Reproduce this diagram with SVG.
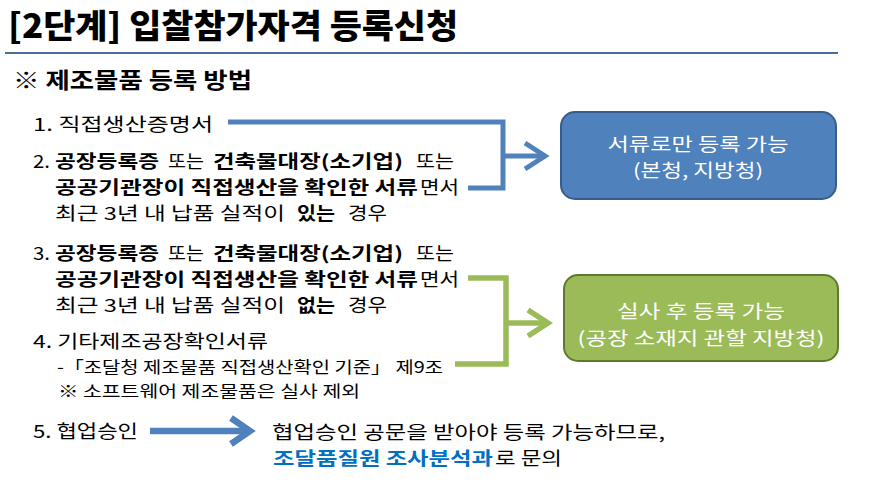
<svg xmlns="http://www.w3.org/2000/svg" width="874" height="491" viewBox="0 0 874 491">
<style>
  text { font-family: "Noto Sans CJK KR", "Noto Sans", sans-serif; fill: #000; }
  .title { font-size: 33px; font-weight: 900; }
  .sub { font-size: 22px; font-weight: 700; }
  .t { font-size: 17.8px; font-weight: 400; }
  .s { font-size: 16.4px; font-weight: 400; }
  .b { font-weight: 700; }
  .hl { font-weight: 700; fill: #0070c0; }
  .boxtxt { font-size: 18px; fill: #fff; text-anchor: middle; }
  .blue { fill: none; stroke: #4f81bd; stroke-width: 5; stroke-linejoin: miter; stroke-linecap: butt; }
  .green { fill: none; stroke: #9bbb59; stroke-width: 5.5; stroke-linejoin: miter; stroke-linecap: butt; }
  .big { stroke-width: 6.5; }
</style>

<g id="header">
  <text class="title" x="8" y="38" textLength="450" lengthAdjust="spacingAndGlyphs">[2단계] 입찰참가자격 등록신청</text>
  <line x1="5" y1="53" x2="838" y2="53" stroke="#4a6f96" stroke-width="2"/>
  <text class="sub" x="13" y="88" textLength="239" lengthAdjust="spacingAndGlyphs">※ 제조물품 등록 방법</text>
</g>

<g id="item1">
  <text class="t" x="33" y="131" textLength="180" lengthAdjust="spacingAndGlyphs">1. 직접생산증명서</text>
</g>

<g id="item2">
  <text class="t" x="33" y="168" textLength="17" lengthAdjust="spacingAndGlyphs">2.</text>
  <text class="t b" x="55" y="168" textLength="104" lengthAdjust="spacingAndGlyphs">공장등록증</text>
  <text class="t" x="168" y="168" textLength="36" lengthAdjust="spacingAndGlyphs">또는</text>
  <text class="t b" x="213" y="168" textLength="190" lengthAdjust="spacingAndGlyphs">건축물대장(소기업)</text>
  <text class="t" x="416" y="168" textLength="38" lengthAdjust="spacingAndGlyphs">또는</text>
  <text class="t b" x="55" y="194" textLength="363" lengthAdjust="spacingAndGlyphs">공공기관장이 직접생산을 확인한 서류</text>
  <text class="t" x="420" y="194" textLength="39" lengthAdjust="spacingAndGlyphs">면서</text>
  <text class="t" x="55" y="220" textLength="230" lengthAdjust="spacingAndGlyphs">최근 3년 내 납품 실적이</text>
  <text class="t b" x="297" y="220" textLength="38" lengthAdjust="spacingAndGlyphs">있는</text>
  <text class="t" x="348" y="220" textLength="39" lengthAdjust="spacingAndGlyphs">경우</text>
</g>

<g id="item3">
  <text class="t" x="33" y="260" textLength="17" lengthAdjust="spacingAndGlyphs">3.</text>
  <text class="t b" x="55" y="260" textLength="104" lengthAdjust="spacingAndGlyphs">공장등록증</text>
  <text class="t" x="168" y="260" textLength="36" lengthAdjust="spacingAndGlyphs">또는</text>
  <text class="t b" x="213" y="260" textLength="190" lengthAdjust="spacingAndGlyphs">건축물대장(소기업)</text>
  <text class="t" x="416" y="260" textLength="38" lengthAdjust="spacingAndGlyphs">또는</text>
  <text class="t b" x="55" y="286" textLength="363" lengthAdjust="spacingAndGlyphs">공공기관장이 직접생산을 확인한 서류</text>
  <text class="t" x="420" y="286" textLength="39" lengthAdjust="spacingAndGlyphs">면서</text>
  <text class="t" x="55" y="312" textLength="230" lengthAdjust="spacingAndGlyphs">최근 3년 내 납품 실적이</text>
  <text class="t b" x="297" y="312" textLength="38" lengthAdjust="spacingAndGlyphs">없는</text>
  <text class="t" x="348" y="312" textLength="39" lengthAdjust="spacingAndGlyphs">경우</text>
</g>

<g id="item4">
  <text class="t" x="33" y="348" textLength="235" lengthAdjust="spacingAndGlyphs">4. 기타제조공장확인서류</text>
  <text class="s" x="57" y="373" textLength="386" lengthAdjust="spacingAndGlyphs">-「조달청 제조물품 직접생산확인 기준」 제9조</text>
  <text class="s" x="58" y="397" textLength="302" lengthAdjust="spacingAndGlyphs">※ 소프트웨어 제조물품은 실사 제외</text>
</g>

<g id="item5">
  <text class="t" x="33" y="438" textLength="105" lengthAdjust="spacingAndGlyphs">5. 협업승인</text>
</g>

<g id="item5-note">
  <text class="t" x="272" y="439" textLength="393" lengthAdjust="spacingAndGlyphs">협업승인 공문을 받아야 등록 가능하므로,</text>
  <text class="t hl" x="273" y="465" textLength="220" lengthAdjust="spacingAndGlyphs">조달품질원 조사분석과</text>
  <text class="t" x="495" y="465" textLength="67" lengthAdjust="spacingAndGlyphs">로 문의</text>
</g>

<g id="box-docs">
  <rect x="561" y="112" width="275" height="87" rx="14" ry="14" fill="#4f81bd" stroke="#385d8a" stroke-width="2"/>
  <text class="boxtxt" x="698" y="150.5" textLength="181" lengthAdjust="spacingAndGlyphs">서류로만 등록 가능</text>
  <text class="boxtxt" x="698" y="177" textLength="130" lengthAdjust="spacingAndGlyphs">(본청, 지방청)</text>
</g>

<g id="box-inspect">
  <rect x="564" y="275" width="274" height="86" rx="14" ry="14" fill="#9bbb59" stroke="#5e7a2e" stroke-width="2"/>
  <text class="boxtxt" x="701" y="318" textLength="168" lengthAdjust="spacingAndGlyphs">실사 후 등록 가능</text>
  <text class="boxtxt" x="701" y="345" textLength="247" lengthAdjust="spacingAndGlyphs">(공장 소재지 관할 지방청)</text>
</g>

<g id="connectors">
  <polyline class="blue" points="228,122 503,122 503,188 468,188"/>
  <line class="blue" x1="503" y1="156" x2="543" y2="156"/>
  <polyline class="blue" points="525,143 545,156 525,169"/>

  <polyline class="green" points="468,278 506,278 506,364 455,364"/>
  <line class="green" x1="506" y1="323" x2="546" y2="323"/>
  <polyline class="green" points="528,310 548,323 528,336"/>

  <line class="blue big" x1="150" y1="431" x2="248" y2="431"/>
  <polyline class="blue big" points="231,418 250,431 231,444"/>
</g>
</svg>
